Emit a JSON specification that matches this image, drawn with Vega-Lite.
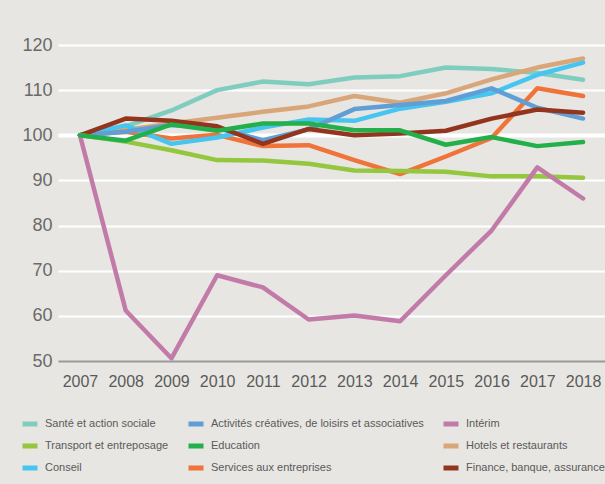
{
  "$schema": "https://vega.github.io/schema/vega-lite/v6.json",
  "width": 547,
  "height": 316,
  "autosize": {"type": "none"},
  "padding": {"left": 58, "top": 45, "right": 0, "bottom": 123},
  "background": "#E7E6E2",
  "config": {
    "view": {"stroke": null},
    "font": "Liberation Sans, Arial, sans-serif"
  },
  "data": {
    "values": [
      {"sector": "Santé et action sociale", "year": 2007, "value": 100},
      {"sector": "Santé et action sociale", "year": 2008, "value": 102},
      {"sector": "Santé et action sociale", "year": 2009, "value": 105.5},
      {"sector": "Santé et action sociale", "year": 2010, "value": 110},
      {"sector": "Santé et action sociale", "year": 2011, "value": 111.9},
      {"sector": "Santé et action sociale", "year": 2012, "value": 111.3},
      {"sector": "Santé et action sociale", "year": 2013, "value": 112.8},
      {"sector": "Santé et action sociale", "year": 2014, "value": 113.1},
      {"sector": "Santé et action sociale", "year": 2015, "value": 115},
      {"sector": "Santé et action sociale", "year": 2016, "value": 114.7},
      {"sector": "Santé et action sociale", "year": 2017, "value": 113.8},
      {"sector": "Santé et action sociale", "year": 2018, "value": 112.3},
      {"sector": "Hotels et restaurants", "year": 2007, "value": 100},
      {"sector": "Hotels et restaurants", "year": 2008, "value": 101.2},
      {"sector": "Hotels et restaurants", "year": 2009, "value": 102.6},
      {"sector": "Hotels et restaurants", "year": 2010, "value": 103.9},
      {"sector": "Hotels et restaurants", "year": 2011, "value": 105.2},
      {"sector": "Hotels et restaurants", "year": 2012, "value": 106.4},
      {"sector": "Hotels et restaurants", "year": 2013, "value": 108.7},
      {"sector": "Hotels et restaurants", "year": 2014, "value": 107.2},
      {"sector": "Hotels et restaurants", "year": 2015, "value": 109.3},
      {"sector": "Hotels et restaurants", "year": 2016, "value": 112.4},
      {"sector": "Hotels et restaurants", "year": 2017, "value": 115},
      {"sector": "Hotels et restaurants", "year": 2018, "value": 117},
      {"sector": "Services aux entreprises", "year": 2007, "value": 100},
      {"sector": "Services aux entreprises", "year": 2008, "value": 100.8},
      {"sector": "Services aux entreprises", "year": 2009, "value": 99.3},
      {"sector": "Services aux entreprises", "year": 2010, "value": 100.1},
      {"sector": "Services aux entreprises", "year": 2011, "value": 97.6},
      {"sector": "Services aux entreprises", "year": 2012, "value": 97.8},
      {"sector": "Services aux entreprises", "year": 2013, "value": 94.5},
      {"sector": "Services aux entreprises", "year": 2014, "value": 91.4},
      {"sector": "Services aux entreprises", "year": 2015, "value": 95.3},
      {"sector": "Services aux entreprises", "year": 2016, "value": 99.4},
      {"sector": "Services aux entreprises", "year": 2017, "value": 110.4},
      {"sector": "Services aux entreprises", "year": 2018, "value": 108.7},
      {"sector": "Conseil", "year": 2007, "value": 100},
      {"sector": "Conseil", "year": 2008, "value": 102.2},
      {"sector": "Conseil", "year": 2009, "value": 98.1},
      {"sector": "Conseil", "year": 2010, "value": 99.5},
      {"sector": "Conseil", "year": 2011, "value": 101.7},
      {"sector": "Conseil", "year": 2012, "value": 103.5},
      {"sector": "Conseil", "year": 2013, "value": 103.2},
      {"sector": "Conseil", "year": 2014, "value": 105.9},
      {"sector": "Conseil", "year": 2015, "value": 107.4},
      {"sector": "Conseil", "year": 2016, "value": 109.3},
      {"sector": "Conseil", "year": 2017, "value": 113.4},
      {"sector": "Conseil", "year": 2018, "value": 116.1},
      {"sector": "Activités créatives, de loisirs et associatives", "year": 2007, "value": 100},
      {"sector": "Activités créatives, de loisirs et associatives", "year": 2008, "value": 100.8},
      {"sector": "Activités créatives, de loisirs et associatives", "year": 2009, "value": 102.3},
      {"sector": "Activités créatives, de loisirs et associatives", "year": 2010, "value": 101.6},
      {"sector": "Activités créatives, de loisirs et associatives", "year": 2011, "value": 98.9},
      {"sector": "Activités créatives, de loisirs et associatives", "year": 2012, "value": 101.3},
      {"sector": "Activités créatives, de loisirs et associatives", "year": 2013, "value": 105.8},
      {"sector": "Activités créatives, de loisirs et associatives", "year": 2014, "value": 106.7},
      {"sector": "Activités créatives, de loisirs et associatives", "year": 2015, "value": 107.6},
      {"sector": "Activités créatives, de loisirs et associatives", "year": 2016, "value": 110.4},
      {"sector": "Activités créatives, de loisirs et associatives", "year": 2017, "value": 106.1},
      {"sector": "Activités créatives, de loisirs et associatives", "year": 2018, "value": 103.7},
      {"sector": "Finance, banque, assurance", "year": 2007, "value": 100},
      {"sector": "Finance, banque, assurance", "year": 2008, "value": 103.7},
      {"sector": "Finance, banque, assurance", "year": 2009, "value": 103.2},
      {"sector": "Finance, banque, assurance", "year": 2010, "value": 102},
      {"sector": "Finance, banque, assurance", "year": 2011, "value": 98.1},
      {"sector": "Finance, banque, assurance", "year": 2012, "value": 101.4},
      {"sector": "Finance, banque, assurance", "year": 2013, "value": 100},
      {"sector": "Finance, banque, assurance", "year": 2014, "value": 100.4},
      {"sector": "Finance, banque, assurance", "year": 2015, "value": 101},
      {"sector": "Finance, banque, assurance", "year": 2016, "value": 103.7},
      {"sector": "Finance, banque, assurance", "year": 2017, "value": 105.7},
      {"sector": "Finance, banque, assurance", "year": 2018, "value": 105},
      {"sector": "Transport et entreposage", "year": 2007, "value": 100},
      {"sector": "Transport et entreposage", "year": 2008, "value": 98.6},
      {"sector": "Transport et entreposage", "year": 2009, "value": 96.7},
      {"sector": "Transport et entreposage", "year": 2010, "value": 94.5},
      {"sector": "Transport et entreposage", "year": 2011, "value": 94.4},
      {"sector": "Transport et entreposage", "year": 2012, "value": 93.7},
      {"sector": "Transport et entreposage", "year": 2013, "value": 92.2},
      {"sector": "Transport et entreposage", "year": 2014, "value": 92.1},
      {"sector": "Transport et entreposage", "year": 2015, "value": 91.9},
      {"sector": "Transport et entreposage", "year": 2016, "value": 90.9},
      {"sector": "Transport et entreposage", "year": 2017, "value": 90.9},
      {"sector": "Transport et entreposage", "year": 2018, "value": 90.6},
      {"sector": "Intérim", "year": 2007, "value": 100},
      {"sector": "Intérim", "year": 2008, "value": 61.2},
      {"sector": "Intérim", "year": 2009, "value": 50.6},
      {"sector": "Intérim", "year": 2010, "value": 69},
      {"sector": "Intérim", "year": 2011, "value": 66.3},
      {"sector": "Intérim", "year": 2012, "value": 59.2},
      {"sector": "Intérim", "year": 2013, "value": 60.1},
      {"sector": "Intérim", "year": 2014, "value": 58.8},
      {"sector": "Intérim", "year": 2015, "value": 69},
      {"sector": "Intérim", "year": 2016, "value": 78.9},
      {"sector": "Intérim", "year": 2017, "value": 92.9},
      {"sector": "Intérim", "year": 2018, "value": 86},
      {"sector": "Education", "year": 2007, "value": 100},
      {"sector": "Education", "year": 2008, "value": 98.8},
      {"sector": "Education", "year": 2009, "value": 102.4},
      {"sector": "Education", "year": 2010, "value": 101},
      {"sector": "Education", "year": 2011, "value": 102.6},
      {"sector": "Education", "year": 2012, "value": 102.6},
      {"sector": "Education", "year": 2013, "value": 101.1},
      {"sector": "Education", "year": 2014, "value": 101.1},
      {"sector": "Education", "year": 2015, "value": 97.9},
      {"sector": "Education", "year": 2016, "value": 99.6},
      {"sector": "Education", "year": 2017, "value": 97.6},
      {"sector": "Education", "year": 2018, "value": 98.5}
    ]
  },
  "mark": {"type": "line", "strokeWidth": 4.5, "strokeCap": "round", "strokeJoin": "round"},
  "encoding": {
    "x": {
      "field": "year",
      "type": "ordinal",
      "scale": {"type": "point", "padding": 0.48},
      "axis": {
        "title": null,
        "labelAngle": 0,
        "domain": false,
        "ticks": false,
        "labelFontSize": 16,
        "labelColor": "#5a5a5a",
        "labelPadding": 12
      }
    },
    "y": {
      "field": "value",
      "type": "quantitative",
      "scale": {"domain": [50, 120], "nice": false, "zero": false},
      "axis": {
        "title": null,
        "values": [50, 60, 70, 80, 90, 100, 110, 120],
        "domain": false,
        "ticks": false,
        "grid": true,
        "gridColor": {"condition": {"test": "datum.value === 50", "value": "#9a9a9a"}, "value": "#ffffff"},
        "gridWidth": {"condition": {"test": "datum.value === 100", "value": 4}, "value": 2},
        "gridOpacity": 1,
        "labelFontSize": 18,
        "labelColor": "#6a6a6a",
        "labelPadding": 6
      }
    },
    "color": {
      "field": "sector",
      "type": "nominal",
      "scale": {
        "domain": ["Santé et action sociale", "Activités créatives, de loisirs et associatives", "Intérim", "Transport et entreposage", "Education", "Hotels et restaurants", "Conseil", "Services aux entreprises", "Finance, banque, assurance"],
        "range": ["#7FCDBF", "#5F9FD6", "#C27BA8", "#94C63E", "#23B04B", "#D9A679", "#47C5F1", "#F0733A", "#93351E"]
      },
      "legend": {
        "title": null,
        "orient": "none",
        "legendX": -38,
        "legendY": 369,
        "direction": "horizontal",
        "columns": 3,
        "symbolType": "stroke",
        "symbolStrokeWidth": 5,
        "symbolSize": 225,
        "labelFontSize": 11,
        "labelLimit": 400,
        "labelColor": "#5a5a5a",
        "labelOffset": 5,
        "rowPadding": 2,
        "columnPadding": 9
      }
    }
  }
}
